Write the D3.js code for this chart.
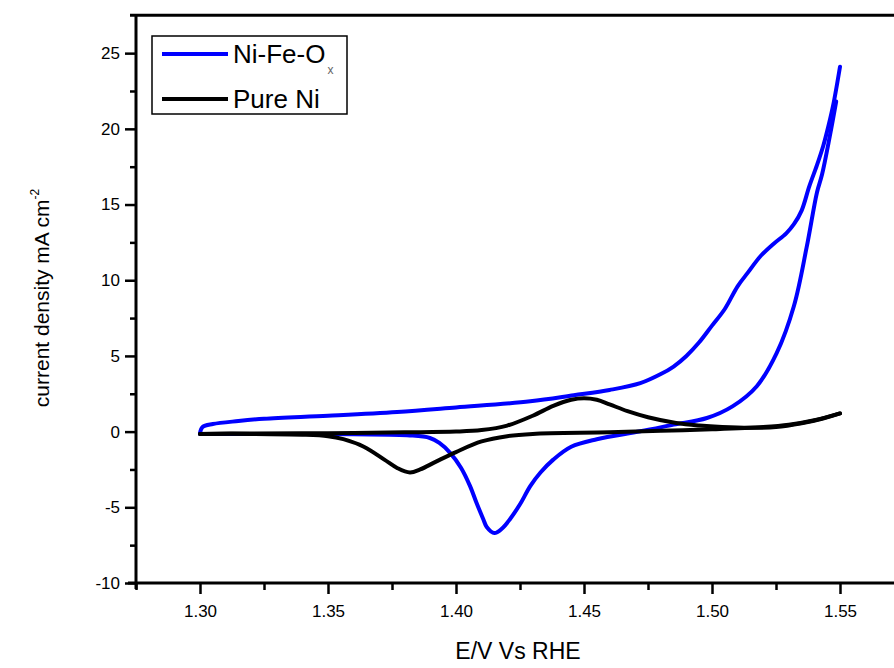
<!DOCTYPE html>
<html>
<head>
<meta charset="utf-8">
<script src="https://cdn.jsdelivr.net/npm/d3@7"></script>
<style>
  body { margin: 0; background: #fff; }
  svg { font-family: "Liberation Sans", Arial, sans-serif; }
</style>
</head>
<body>
<div id="container"></div>
<script>
// potential (V vs RHE) and current density (mA cm-2)
var nife_anodic = [[1.300,-0.1],[1.301,0.3],[1.305,0.5],[1.315,0.7],[1.325,0.85],[1.350,1.05],[1.377,1.3],[1.400,1.6],[1.429,2.0],[1.446,2.4],[1.460,2.75],[1.472,3.2],[1.480,3.8],[1.485,4.3],[1.490,5.0],[1.495,5.9],[1.500,7.0],[1.505,8.1],[1.510,9.6],[1.514,10.5],[1.519,11.6],[1.524,12.4],[1.529,13.1],[1.532,13.7],[1.535,14.6],[1.538,16.2],[1.541,17.6],[1.5435,18.9],[1.5455,20.2],[1.5475,21.7],[1.550,24.1]];
var nife_cathodic = [[1.5485,21.8],[1.546,19.5],[1.543,17.0],[1.541,15.8],[1.537,12.2],[1.532,8.3],[1.5253,5.2],[1.5175,3.0],[1.508,1.67],[1.498,0.9],[1.485,0.46],[1.472,0.02],[1.455,-0.5],[1.445,-1.0],[1.438,-1.85],[1.433,-2.7],[1.429,-3.6],[1.425,-4.8],[1.421,-5.8],[1.418,-6.4],[1.415,-6.7],[1.412,-6.3],[1.4107,-5.8],[1.408,-4.7],[1.4055,-3.6],[1.402,-2.4],[1.3977,-1.4],[1.3935,-0.75],[1.3898,-0.42],[1.382,-0.25],[1.360,-0.18],[1.340,-0.15],[1.320,-0.15],[1.300,-0.15]];
var ni_anodic = [[1.300,-0.15],[1.320,-0.12],[1.350,-0.1],[1.380,-0.05],[1.400,0.0],[1.410,0.1],[1.420,0.4],[1.430,1.05],[1.438,1.7],[1.445,2.1],[1.450,2.2],[1.455,2.1],[1.460,1.8],[1.467,1.35],[1.475,0.95],[1.486,0.57],[1.495,0.4],[1.504,0.3],[1.515,0.25],[1.525,0.3],[1.535,0.55],[1.543,0.85],[1.550,1.2]];
var ni_cathodic = [[1.550,1.2],[1.540,0.75],[1.530,0.45],[1.520,0.3],[1.500,0.15],[1.480,0.05],[1.460,-0.05],[1.430,-0.15],[1.420,-0.3],[1.410,-0.65],[1.400,-1.35],[1.392,-2.0],[1.386,-2.5],[1.382,-2.7],[1.377,-2.4],[1.372,-1.85],[1.364,-1.0],[1.356,-0.5],[1.350,-0.3],[1.340,-0.2],[1.320,-0.15],[1.300,-0.15]];

var xTicks = [1.30, 1.35, 1.40, 1.45, 1.50, 1.55];
var yTicks = [-10, -5, 0, 5, 10, 15, 20, 25];
var series = [
  {name: "Ni-Fe-O", sub: "x", color: "#0000ff", parts: [nife_anodic, nife_cathodic]},
  {name: "Pure Ni", sub: "", color: "#000000", parts: [ni_anodic, ni_cathodic]}
];

var W = 894, H = 668;
var svg = d3.select("#container").append("svg")
  .attr("width", W).attr("height", H);

var x = d3.scaleLinear().domain([1.275, 1.575]).range([136, 904]);
var y = d3.scaleLinear().domain([-10, 27.5]).range([583, 15.3]);

// frame top
svg.append("line").attr("x1", x(1.275) - 6).attr("x2", W).attr("y1", y(27.5)).attr("y2", y(27.5))
  .attr("stroke", "#000").attr("stroke-width", 3);

// curves
var line = d3.line()
  .x(function(d) { return x(d[0]); })
  .y(function(d) { return y(d[1]); })
  .curve(d3.curveCatmullRom.alpha(0.5));

series.forEach(function(s) {
  s.parts.forEach(function(p) {
    svg.append("path").datum(p)
      .attr("d", line)
      .attr("fill", "none")
      .attr("stroke", s.color)
      .attr("stroke-width", 4)
      .attr("stroke-linejoin", "round")
      .attr("stroke-linecap", "round");
  });
});

// x axis
var minorX = d3.range(1.275, 1.5751, 0.025).filter(function(v) {
  return !xTicks.some(function(t) { return Math.abs(t - v) < 1e-6; });
});
var gx = svg.append("g").attr("transform", "translate(0," + y(-10) + ")");
gx.call(d3.axisBottom(x).tickValues(xTicks).tickFormat(d3.format(".2f")).tickSize(11).tickPadding(11));
gx.append("g").call(d3.axisBottom(x).tickValues(minorX).tickSize(7).tickFormat(""))
  .select(".domain").remove();
gx.select(".domain").attr("stroke-width", 3).attr("d", "M" + (x(1.275) - 8) + ",0H" + W);
gx.selectAll(".tick line").attr("stroke-width", 2.5);
gx.selectAll(".tick text").attr("font-size", 17).attr("fill", "#000");

// y axis
var minorY = d3.range(-7.5, 27.5, 5);
var gy = svg.append("g").attr("transform", "translate(" + x(1.275) + ",0)");
gy.call(d3.axisLeft(y).tickValues(yTicks).tickSize(11).tickPadding(5)
  .tickFormat(function(d) { return String(d); }));
gy.append("g").call(d3.axisLeft(y).tickValues(minorY).tickSize(6).tickFormat(""))
  .select(".domain").remove();
gy.select(".domain").attr("stroke-width", 3).attr("d", "M0," + y(27.5) + "V" + (y(-10) + 6));
gy.selectAll(".tick line").attr("stroke-width", 2.5);
gy.selectAll(".tick text").attr("font-size", 17).attr("fill", "#000");

// axis titles
svg.append("text")
  .attr("x", 518).attr("y", 659)
  .attr("text-anchor", "middle")
  .attr("font-size", 23)
  .text("E/V Vs RHE");

var yt = svg.append("text")
  .attr("transform", "translate(49,298) rotate(-90)")
  .attr("text-anchor", "middle")
  .attr("font-size", 21);
yt.append("tspan").text("current density mA cm");
yt.append("tspan").attr("font-size", 12).attr("dy", -10).text("-2");

// legend
var lg = svg.append("g").attr("transform", "translate(152,36)");
lg.append("rect").attr("width", 195).attr("height", 78)
  .attr("fill", "#fff").attr("stroke", "#000").attr("stroke-width", 1.5);
series.forEach(function(s, i) {
  var row = lg.append("g").attr("transform", "translate(0," + (18 + i * 45) + ")");
  row.append("line").attr("x1", 10).attr("x2", 76)
    .attr("stroke", s.color).attr("stroke-width", 4);
  var t = row.append("text").attr("x", 81).attr("y", 0).attr("dy", "0.35em")
    .attr("font-size", 26).text(s.name);
  if (s.sub) {
    t.append("tspan").attr("font-size", 12).attr("dx", 2).attr("dy", 11).attr("fill", "#666").text(s.sub);
  }
});
</script>
</body>
</html>
